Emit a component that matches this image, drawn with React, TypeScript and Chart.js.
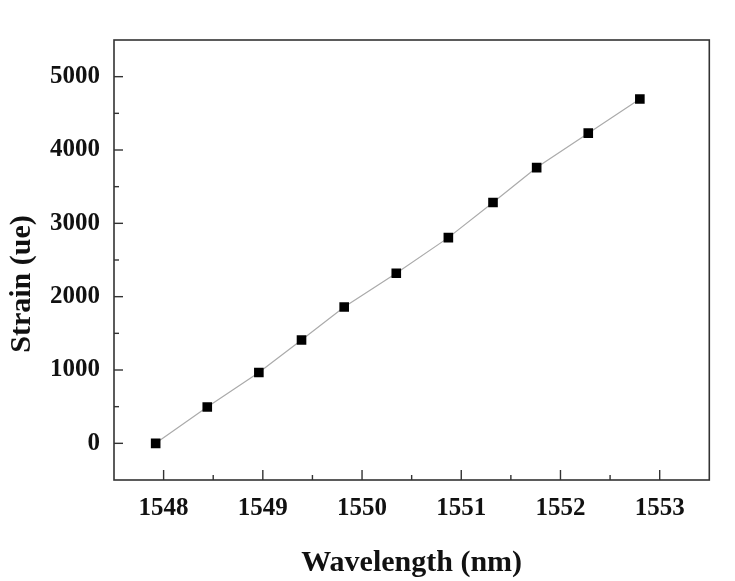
import React, { useEffect, useRef } from "react";
import { Chart, registerables } from "chart.js";

Chart.register(...registerables);

const wavelength = [1547.92, 1548.44, 1548.96, 1549.39, 1549.82, 1550.345, 1550.87, 1551.32, 1551.76, 1552.28, 1552.8];
const strain = [0, 495, 965, 1410, 1860, 2320, 2805, 3285, 3760, 4230, 4695];
const xTicks = [1548, 1549, 1550, 1551, 1552, 1553];
const xMinorTicks = [1548.5, 1549.5, 1550.5, 1551.5, 1552.5];
const yTicks = [0, 1000, 2000, 3000, 4000, 5000];
const yMinorTicks = [500, 1500, 2500, 3500, 4500];
const xTitle = "Wavelength (nm)";
const yTitle = "Strain (ue)";

const FONT = "'Liberation Serif', 'Times New Roman', serif";
const AXIS_COLOR = "#333333";

const framePlugin = {
  id: "frameTicks",
  afterDraw(chart: any) {
    const { ctx, chartArea, scales } = chart;
    const { left, right, top, bottom } = chartArea;
    ctx.save();
    ctx.strokeStyle = AXIS_COLOR;
    ctx.lineWidth = 1.6;
    ctx.strokeRect(left, top, right - left, bottom - top);
    ctx.lineWidth = 1.4;
    const xs = scales.x;
    const ys = scales.y;
    const drawX = (v: number, len: number) => {
      const px = xs.getPixelForValue(v);
      ctx.beginPath();
      ctx.moveTo(px, bottom);
      ctx.lineTo(px, bottom - len);
      ctx.stroke();
    };
    const drawY = (v: number, len: number) => {
      const py = ys.getPixelForValue(v);
      ctx.beginPath();
      ctx.moveTo(left, py);
      ctx.lineTo(left + len, py);
      ctx.stroke();
    };
    xTicks.forEach((v) => drawX(v, 10));
    xMinorTicks.forEach((v) => drawX(v, 5));
    yTicks.forEach((v) => drawY(v, 9));
    yMinorTicks.forEach((v) => drawY(v, 5));

    ctx.fillStyle = "#111111";
    ctx.font = `bold 30px ${FONT}`;
    ctx.textAlign = "center";
    ctx.textBaseline = "middle";
    ctx.fillText(xTitle, (left + right) / 2, 563);
    ctx.translate(22, 284);
    ctx.rotate(-Math.PI / 2);
    ctx.fillText(yTitle, 0, 0);
    ctx.restore();
  },
};

export default function App() {
  const canvasRef = useRef<HTMLCanvasElement | null>(null);

  useEffect(() => {
    if (!canvasRef.current) return;
    const chart = new Chart(canvasRef.current, {
      type: "scatter",
      data: {
        datasets: [
          {
            data: wavelength.map((x, i) => ({ x, y: strain[i] })),
            showLine: true,
            borderColor: "#ababab",
            borderWidth: 1.2,
            pointStyle: "rect",
            pointRadius: 6.8,
            pointBackgroundColor: "#000000",
            pointBorderColor: "#000000",
            pointBorderWidth: 0,
            tension: 0,
          },
        ],
      },
      options: {
        responsive: false,
        animation: false,
        layout: { padding: { left: 0, top: 40, right: 25.7, bottom: 0 } },
        plugins: {
          legend: { display: false },
          tooltip: { enabled: false },
          title: { display: false },
        },
        scales: {
          x: {
            type: "linear",
            min: 1547.5,
            max: 1553.5,
            afterBuildTicks: (scale: any) => {
              scale.ticks = xTicks.map((v) => ({ value: v }));
            },
            afterFit: (scale: any) => {
              scale.height = 101;
            },
            grid: { display: false, drawTicks: false },
            border: { display: false },
            ticks: {
              autoSkip: false,
              maxRotation: 0,
              minRotation: 0,
              padding: 14,
              color: "#111111",
              font: { family: FONT, size: 25, weight: "bold" },
              callback: (v: any) => String(v),
            },
          },
          y: {
            type: "linear",
            min: -500,
            max: 5500,
            afterBuildTicks: (scale: any) => {
              scale.ticks = yTicks.map((v) => ({ value: v }));
            },
            afterFit: (scale: any) => {
              scale.width = 114;
            },
            grid: { display: false, drawTicks: false },
            border: { display: false },
            ticks: {
              autoSkip: false,
              padding: 14,
              color: "#111111",
              font: { family: FONT, size: 25, weight: "bold" },
              callback: (v: any) => String(v),
            },
          },
        },
      },
      plugins: [framePlugin],
    });
    return () => chart.destroy();
  }, []);

  return (
    <div style={{ position: "absolute", left: 0, top: 0, width: 735, height: 581, background: "#ffffff" }}>
      <canvas ref={canvasRef} width={735} height={581} style={{ display: "block" }} />
    </div>
  );
}
